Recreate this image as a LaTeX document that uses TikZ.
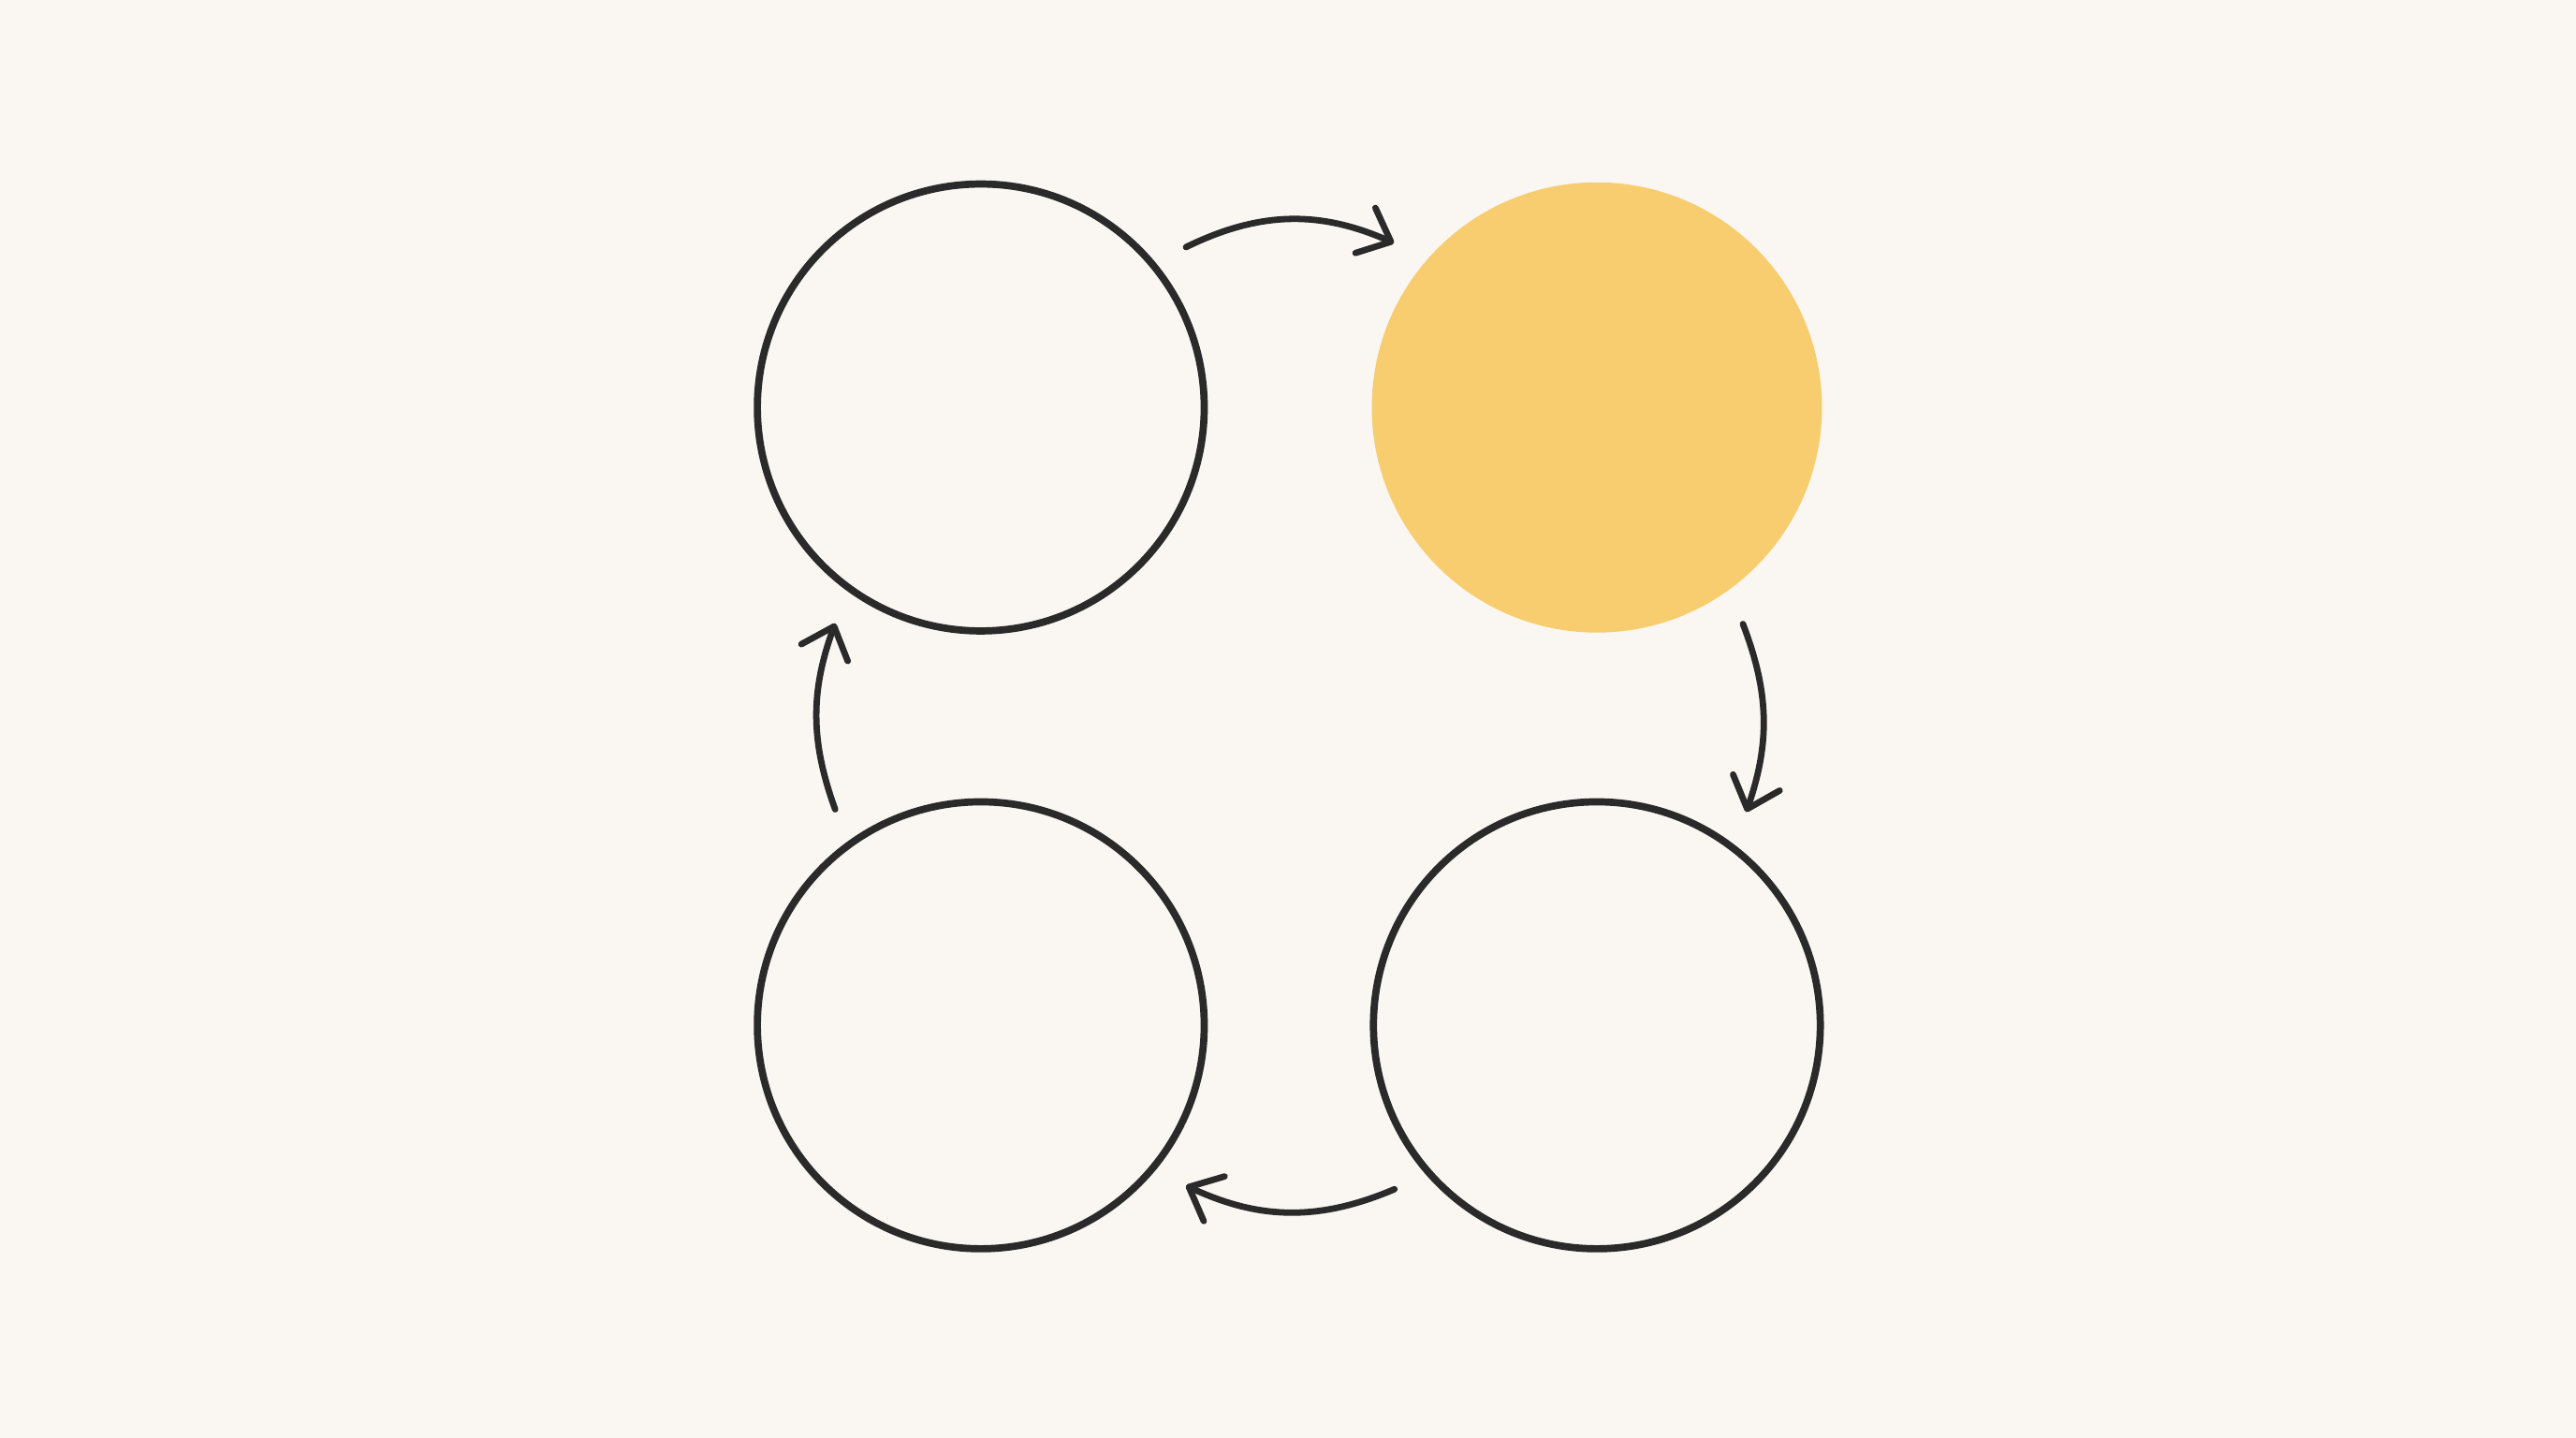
\documentclass[tikz,border=0pt]{standalone}
\usetikzlibrary{arrows.meta}
\definecolor{paper}{HTML}{FAF7F3}
\definecolor{ink}{HTML}{2A2A2A}
\definecolor{sun}{HTML}{F7CD70}
\tikzset{ring/.style={draw=ink,circle,line width=1.25pt,minimum size=2.72cm,outer sep=0.225cm}}
\tikzset{lit/.style={circle,fill=sun,minimum size=2.74cm,outer sep=0.22cm}}
\tikzset{flow/.style={draw=ink,line width=1.1pt,line cap=round,-{Straight Barb[length=1.7mm,width=3mm,round]}}}

\begin{document}
\begin{tikzpicture}
    \fill[paper] (0,0) rectangle (15.68,8.75);
    \useasboundingbox (0,0) rectangle (15.68,8.75);

    \node[ring] (tl) at (5.97,6.27) {};
    \node[lit] (tr) at (9.72,6.27) {};
    \node[ring] (bl) at (5.97,2.51) {};
    \node[ring] (br) at (9.72,2.51) {};

    \draw[flow] (tl.38.6) to[bend left=25] (tr.141.4);
    \draw[flow] (tr.-56.2) to[bend left=20] (br.55.8);
    \draw[flow] (br.219.2) to[bend left=24] (bl.-38.9);
    \draw[flow] (bl.124) to[bend left=20] (tl.236);
\end{tikzpicture}
\end{document}
